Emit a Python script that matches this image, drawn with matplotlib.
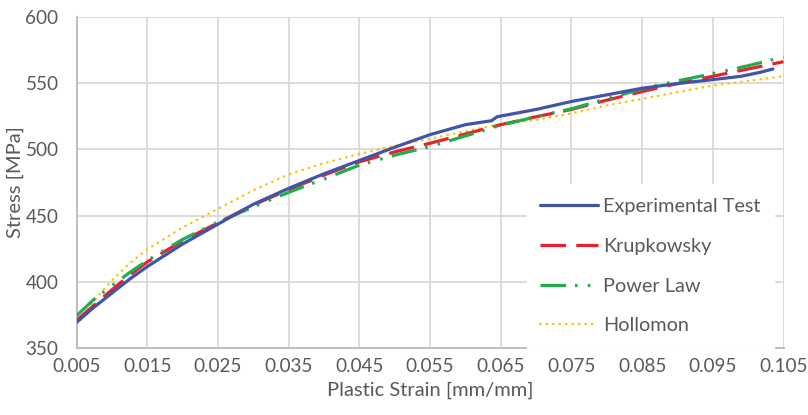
import matplotlib.pyplot as plt
import numpy as np

# experimental flow curve
exp_strain = [0.005, 0.0075, 0.010, 0.0125, 0.015, 0.0175, 0.020, 0.0225, 0.025,
              0.030, 0.035, 0.040, 0.045, 0.050, 0.055, 0.060, 0.0637, 0.0645,
              0.065, 0.070, 0.075, 0.080, 0.085, 0.090, 0.095, 0.099, 0.1017, 0.1035]
exp_stress = [369.5, 381, 391.5, 402, 411.5, 420, 428.5, 436, 443.5,
              458.5, 470.5, 481.5, 491.5, 501.5, 511, 518.5, 521.5, 524.5,
              525, 530, 536, 541, 546, 549.5, 552.5, 555, 558, 560.5]

# fitted models
fit_strain = [0.005, 0.0075, 0.010, 0.0125, 0.015, 0.020, 0.025, 0.030, 0.035, 0.040,
              0.045, 0.050, 0.055, 0.060, 0.065, 0.070, 0.075, 0.080, 0.085,
              0.090, 0.095, 0.100, 0.105]
krupkowsky = [371, 382.5, 394, 405, 415, 431, 444.5, 458, 469.5, 480.5,
              490.5, 498, 504.5, 511.5, 518.5, 524.5, 530, 537, 543.5,
              549.5, 555, 560.5, 566]
power_law = [374.5, 387, 397, 407, 416, 432, 445, 456.5, 467.5, 477.5,
             488, 495.5, 502, 510, 518, 524.5, 530.5, 538, 545.5,
             551.5, 557, 563, 569.5]
hollomon = [367, 386, 401, 414, 424.5, 441, 455, 469, 481, 489.5,
            496.5, 502.5, 508, 513.5, 519, 522, 527, 533, 538,
            543, 548, 551.5, 555]

xticks = np.arange(0.005, 0.1051, 0.01)
yticks = [350, 400, 450, 500, 550, 600]

plt.rcParams['font.family'] = ['Lato', 'DejaVu Sans']
text_col = '#595959'

fig = plt.figure(figsize=(8.08, 4.15), dpi=100)
ax = fig.add_axes([0.0947, 0.161, 0.875, 0.799])

ax.plot(exp_strain, exp_stress, color='#4254A8', lw=2.3, label='Experimental Test',
        solid_capstyle='round', zorder=4)
ax.plot(fit_strain, krupkowsky, color='#E8222A', lw=2.3, dashes=(8, 3.2),
        label='Krupkowsky', zorder=3)
ax.plot(fit_strain, power_law, color='#22AC4B', lw=2.3,
        dashes=(8, 2.8, 0.8, 3.2, 0.8, 3.0), label='Power Law', zorder=3)
ax.plot(fit_strain, hollomon, color='#FFC000', lw=1.7, dashes=(0.2, 2.55),
        dash_capstyle='round', label='Hollomon', zorder=2)

ax.set_xlim(0.005, 0.105)
ax.set_ylim(350, 600)
ax.set_xticks(xticks)
ax.set_xticklabels(['%.3f' % t for t in xticks])
ax.set_yticks(yticks)
ax.grid(True, color='#D9D9D9', lw=1.3)
ax.set_axisbelow(True)

for side in ['top', 'right']:
    ax.spines[side].set_visible(False)
for side in ['left', 'bottom']:
    ax.spines[side].set_color('#BFBFBF')
    ax.spines[side].set_linewidth(1.5)

ax.tick_params(axis='both', length=0, labelsize=13.6, colors=text_col)
ax.tick_params(axis='y', pad=13)
ax.tick_params(axis='x', pad=7)

ax.set_xlabel('Plastic Strain [mm/mm]', fontsize=14.5, color=text_col, labelpad=5)
ax.set_ylabel('Stress [MPa]', fontsize=14.5, color=text_col, labelpad=1)

leg = ax.legend(loc='lower right', bbox_to_anchor=(0.987, 0.0), fontsize=14.3,
                frameon=True, fancybox=False, handlelength=2.9, handletextpad=0.25,
                labelspacing=1.14, borderpad=0.7, borderaxespad=0.0)
leg.get_frame().set_facecolor('white')
leg.get_frame().set_edgecolor('white')
leg.get_frame().set_alpha(1.0)
for t in leg.get_texts():
    t.set_color(text_col)

fig.savefig('out.png', dpi=100)
